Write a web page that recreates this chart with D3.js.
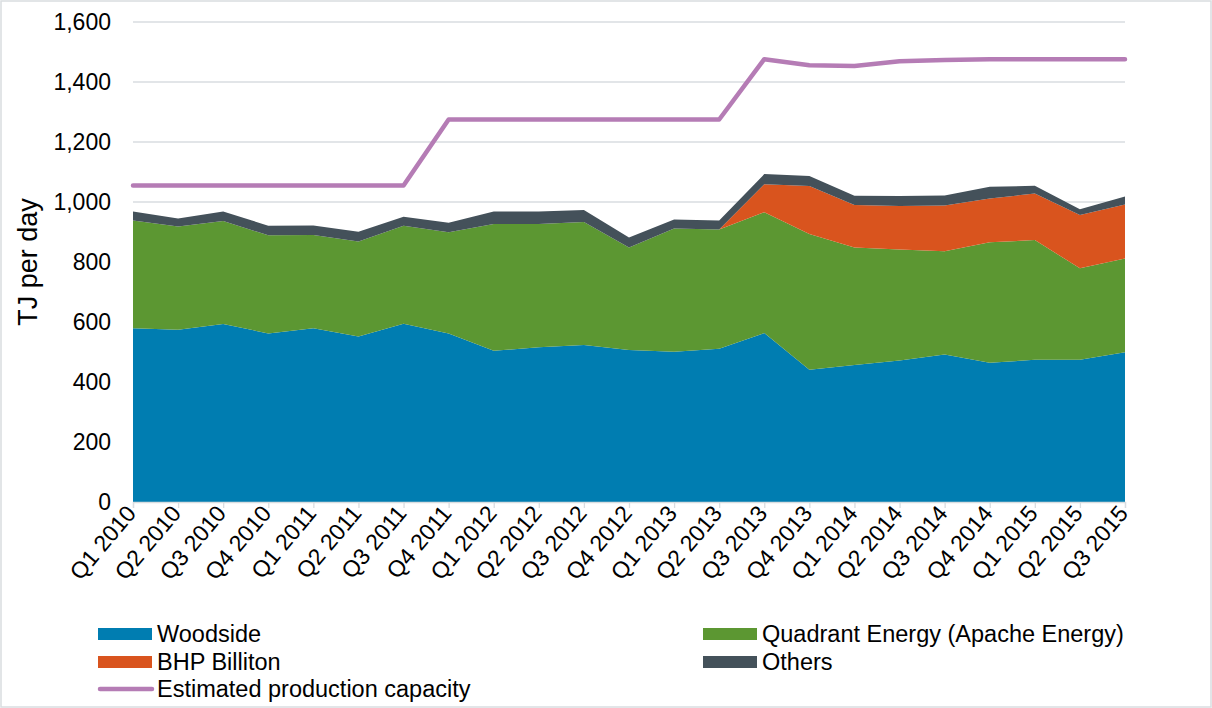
<!DOCTYPE html>
<html><head><meta charset="utf-8">
<script src="https://cdn.jsdelivr.net/npm/d3@7"></script>
<style>
html,body{margin:0;padding:0;background:#fff;}
svg{display:block;font-family:Arial,"Liberation Sans",sans-serif;}
</style></head>
<body>
<svg id="chart" width="1212" height="708"></svg>
<script>
const quarters = ["Q1 2010","Q2 2010","Q3 2010","Q4 2010","Q1 2011","Q2 2011","Q3 2011","Q4 2011","Q1 2012","Q2 2012","Q3 2012","Q4 2012","Q1 2013","Q2 2013","Q3 2013","Q4 2013","Q1 2014","Q2 2014","Q3 2014","Q4 2014","Q1 2015","Q2 2015","Q3 2015"];
const woodside = [579,574,593,562,579,552,594,562,504,516,523,507,501,511,563,441,457,472,492,464,474,474,499];
const quadrant = [359,344,344,327,311,316,327,337,423,411,410,341,411,397,403,452,391,370,344,402,399,305,313];
const bhp      = [0,0,0,0,0,0,0,0,0,0,0,0,0,0,93,160,142,145,152,146,155,178,180];
const others   = [30,27,31,32,32,33,30,32,41,41,40,34,30,30,34,34,31,33,34,39,26,19,26];
const capacity = [1055,1055,1055,1055,1055,1055,1055,1275,1275,1275,1275,1275,1275,1275,1476,1456,1453,1469,1473,1476,1476,1476,1476];
const yTicks = [0,200,400,600,800,1000,1200,1400,1600];

const seriesNames = ["Woodside","Quadrant Energy (Apache Energy)","BHP Billiton","Others"];
const seriesKeys = ["woodside","quadrant","bhp","others"];
const colors = {woodside:"#007DB1", quadrant:"#5C9732", bhp:"#D9541E", others:"#44515A"};
const capColor = "#B57CB5";

const table = quarters.map((q,i)=>({q, woodside:woodside[i], quadrant:quadrant[i], bhp:bhp[i], others:others[i], capacity:capacity[i]}));

const svg = d3.select("#chart");
const pL = 133, pR = 1125, pT = 22, pB = 502;

svg.append("rect").attr("x",1).attr("y",1).attr("width",1210).attr("height",706)
  .attr("fill","#fff").attr("stroke","#D9DDE0").attr("stroke-width",1.5);

const x = d3.scalePoint().domain(quarters).range([pL,pR]);
const y = d3.scaleLinear().domain([0,1600]).range([pB,pT]);

// gridlines
svg.append("g").selectAll("line").data(yTicks).join("line")
  .attr("x1",pL).attr("x2",pR)
  .attr("y1",d=>y(d)).attr("y2",d=>y(d))
  .attr("stroke","#D9DDE0").attr("stroke-width",1.3);

// stacked areas
const stack = d3.stack().keys(seriesKeys);
const layers = stack(table);
const area = d3.area().x(d=>x(d.data.q)).y0(d=>y(d[0])).y1(d=>y(d[1]));
svg.append("g").selectAll("path").data(layers).join("path")
  .attr("d",area).attr("fill",d=>colors[d.key]);

// capacity line
const line = d3.line().x(d=>x(d.q)).y(d=>y(d.capacity));
svg.append("path").datum(table).attr("d",line)
  .attr("fill","none").attr("stroke",capColor).attr("stroke-width",4.5)
  .attr("stroke-linejoin","round").attr("stroke-linecap","round");

// y axis
const yAxis = d3.axisLeft(y).tickValues(yTicks).tickFormat(d3.format(",")).tickSize(0).tickPadding(22);
const gy = svg.append("g").attr("transform",`translate(${pL},0)`).call(yAxis);
gy.select(".domain").remove();
gy.selectAll("text").attr("font-size",23).attr("fill","#000").attr("font-family","Arial, 'Liberation Sans', sans-serif");

// x axis
const xAxis = d3.axisBottom(x).tickSize(6).tickPadding(0);
const gx = svg.append("g").attr("transform",`translate(0,${pB})`).call(xAxis);
gx.select(".domain").attr("stroke","#D9DDE0").attr("stroke-width",1.3);
gx.selectAll(".tick line").attr("stroke","#D9DDE0").attr("stroke-width",1.3);
gx.selectAll("text").attr("font-size",23).attr("fill","#000")
  .attr("font-family","Arial, 'Liberation Sans', sans-serif")
  .attr("text-anchor","end").attr("dy",null).attr("y",null)
  .attr("transform","translate(-1,8) rotate(-50)")
  .attr("dominant-baseline","middle");

// y title
svg.append("text").attr("transform","translate(37,262) rotate(-90)")
  .attr("text-anchor","middle").attr("font-size",27).attr("fill","#000")
  .text("TJ per day");

// legend
const legendItems = [
  {name:seriesNames[0], key:"woodside", x:98, y:634},
  {name:seriesNames[1], key:"quadrant", x:703, y:634},
  {name:seriesNames[2], key:"bhp", x:98, y:662},
  {name:seriesNames[3], key:"others", x:703, y:662}
];
const lg = svg.append("g");
legendItems.forEach(it=>{
  lg.append("rect").attr("x",it.x).attr("y",it.y-6).attr("width",54).attr("height",12).attr("fill",colors[it.key]);
  lg.append("text").attr("x",it.x+59).attr("y",it.y).attr("dominant-baseline","central")
    .attr("font-size",23.5).attr("fill","#000").text(it.name);
});
lg.append("line").attr("x1",100).attr("x2",152).attr("y1",689).attr("y2",689)
  .attr("stroke",capColor).attr("stroke-width",4.5).attr("stroke-linecap","round");
lg.append("text").attr("x",157).attr("y",689).attr("dominant-baseline","central")
  .attr("font-size",23.5).attr("fill","#000").text("Estimated production capacity");
</script>
</body></html>
